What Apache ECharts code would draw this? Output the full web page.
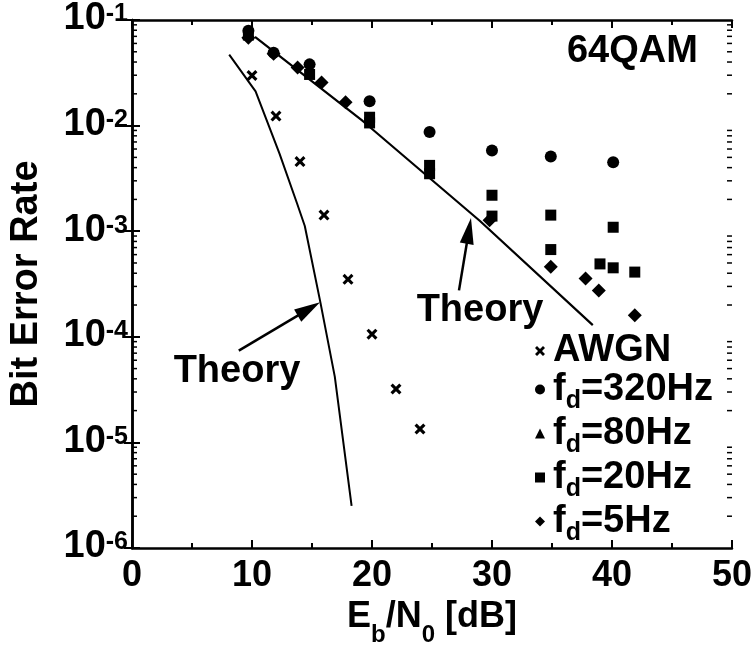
<!DOCTYPE html>
<html><head><meta charset="utf-8">
<script src="https://cdn.jsdelivr.net/npm/echarts/dist/echarts.min.js"></script>
<style>html,body{margin:0;padding:0;background:#fff}#c{width:755px;height:653px}</style>
</head><body><div id="c"></div>
<script>
const FONT = '"Liberation Sans", Arial, Helvetica, sans-serif';

// ---- data ----
const awgnEbN0 = [10, 12, 14, 16, 18, 20, 22, 24];
const awgnBer  = [0.0298, 0.0123, 0.00456, 0.00142, 3.5e-4, 1.06e-4, 3.2e-5, 1.34e-5];

const fd320EbN0 = [9.7, 11.8, 14.8, 19.8, 24.8, 30, 34.9, 40.1];
const fd320Ber  = [0.079, 0.049, 0.038, 0.0170, 0.0087, 0.0058, 0.0051, 0.0045];

const fd80EbN0 = [9.7];
const fd80Ber  = [0.075];

const fd20EbN0 = [9.7, 14.8, 19.8, 19.8, 24.8, 24.8, 30, 30, 34.9, 34.9, 39, 40.1, 40.1, 41.9];
const fd20Ber  = [0.072, 0.0305, 0.0120, 0.0106, 0.0042, 0.0035, 0.00219, 0.00139, 0.00142, 6.7e-4, 4.9e-4, 0.00109, 4.5e-4, 4.1e-4];

const fd5EbN0 = [9.7, 11.8, 13.8, 15.8, 17.8, 29.8, 34.9, 37.8, 38.9, 41.9];
const fd5Ber  = [0.0678, 0.048, 0.0355, 0.0256, 0.0166, 0.00127, 4.6e-4, 3.56e-4, 2.75e-4, 1.6e-4];

const theoryAwgnEbN0 = [8.1, 10.3, 12.3, 13.75, 14.4, 15.7, 16.9, 18.3];
const theoryAwgnBer  = [0.047, 0.0211, 0.0054, 0.00184, 0.00112, 2.12e-4, 4.2e-5, 2.5e-6];

const theoryRayEbN0 = [10.25, 19.25, 29.0, 38.4];
const theoryRayBer  = [0.0693, 0.0110, 0.00125, 1.29e-4];

// annotation arrows and labels (data coordinates)
const arrowFrom = [[8.9, 7.4e-5], [27.25, 2.75e-4]];
const arrowTo   = [[15.67, 2.12e-4], [28.25, 1.33e-3]];
const annotText = ['Theory', 'Theory', '64QAM'];
const annotAt   = [[8.75, 4.7e-5], [29.0, 1.78e-4], [41.7, 0.050]];

const xTickMin = 0, xTickMax = 50, xTickStep = 10;
const yDecadeMin = 1e-6, yDecadeMax = 0.1;
const minorMultipliers = [2, 3, 4, 5, 6, 7, 8, 9];
const legendNames = ['AWGN', 'fd=320Hz', 'fd=80Hz', 'fd=20Hz', 'fd=5Hz'];

const zip = (xs, ys) => xs.map((x, i) => [x, ys[i]]);
const minorVals = [];
for (let d = yDecadeMin; d < yDecadeMax * 0.99; d *= 10) {
  minorMultipliers.forEach(m => minorVals.push([0, d * m]));
}

const crossPath = 'path://M2,0 L5,3 L8,0 L10,2 L7,5 L10,8 L8,10 L5,7 L2,10 L0,8 L3,5 L0,2 Z';

const axisLine = {show: true, lineStyle: {color: '#000', width: 2.5}};
const tickStyle = {color: '#000', width: 2};
const mark = {color: '#000', opacity: 1};

const chart = echarts.init(document.getElementById('c'), null, {renderer: 'canvas'});
const option = {
  animation: false,
  backgroundColor: '#fff',
  grid: {left: 132, right: 23, top: 15, bottom: 105},
  textStyle: {fontFamily: FONT},
  legend: {
    orient: 'vertical', left: 530, top: 327,
    itemWidth: 10, itemHeight: 10, itemGap: -5,
    data: legendNames,
    selectedMode: false,
    formatter: name => name === 'AWGN' ? '{p|AWGN}' : '{p|f}{s|d}{n|' + name.slice(2) + '}',
    textStyle: {
      color: '#000', fontFamily: FONT, fontWeight: 'bold', fontSize: 38,
      rich: {
        p: {fontFamily: FONT, fontWeight: 'bold', fontSize: 38, lineHeight: 30, verticalAlign: 'middle', padding: [0, 0, 0, 3], color: '#000'},
        n: {fontFamily: FONT, fontWeight: 'bold', fontSize: 38, lineHeight: 30, verticalAlign: 'middle', color: '#000'},
        s: {fontFamily: FONT, fontWeight: 'bold', fontSize: 25, lineHeight: 24, verticalAlign: 'middle', padding: [24, 0, 0, 0], color: '#000'}
      }
    }
  },
  xAxis: [{
    type: 'value', min: xTickMin, max: xTickMax, interval: xTickStep, position: 'bottom',
    axisLine: axisLine,
    axisTick: {show: true, inside: true, length: 8, lineStyle: tickStyle},
    minorTick: {show: true, splitNumber: 2, length: 5, lineStyle: tickStyle},
    splitLine: {show: false},
    axisLabel: {color: '#000', fontFamily: FONT, fontWeight: 'bold', fontSize: 36, margin: 10},
    name: '{n|E}{s|b}{n|/N}{s|0}{n| [dB]}',
    nameLocation: 'middle', nameGap: 52,
    nameTextStyle: {
      color: '#000',
      rich: {
        n: {fontFamily: FONT, fontWeight: 'bold', fontSize: 36, lineHeight: 32, padding: [0, 0, 12, 0], verticalAlign: 'bottom', color: '#000'},
        s: {fontFamily: FONT, fontWeight: 'bold', fontSize: 24, lineHeight: 24, verticalAlign: 'bottom', color: '#000'}
      }
    }
  }, {
    type: 'value', min: xTickMin, max: xTickMax, interval: xTickStep, position: 'top',
    axisLine: axisLine,
    axisTick: {show: true, inside: true, length: 8, lineStyle: tickStyle},
    minorTick: {show: true, splitNumber: 2, length: 5, lineStyle: tickStyle},
    splitLine: {show: false}, axisLabel: {show: false}
  }],
  yAxis: [{
    type: 'log', logBase: 10, min: yDecadeMin, max: yDecadeMax, position: 'left',
    axisLine: axisLine,
    axisTick: {show: true, inside: true, length: 8, lineStyle: tickStyle},
    splitLine: {show: false},
    axisLabel: {
      margin: 4,
      formatter: v => '{b|10}{e|' + Math.round(Math.log10(v)) + '}',
      rich: {
        b: {fontFamily: FONT, fontWeight: 'bold', fontSize: 38, lineHeight: 36, verticalAlign: 'bottom', color: '#000'},
        e: {fontFamily: FONT, fontWeight: 'bold', fontSize: 25, lineHeight: 24, verticalAlign: 'top', color: '#000'}
      }
    },
    name: 'Bit Error Rate', nameLocation: 'middle', nameGap: 86,
    nameTextStyle: {color: '#000', fontFamily: FONT, fontWeight: 'bold', fontSize: 38}
  }, {
    type: 'log', logBase: 10, min: yDecadeMin, max: yDecadeMax, position: 'right',
    axisLine: axisLine,
    axisTick: {show: true, inside: true, length: 8, lineStyle: tickStyle},
    splitLine: {show: false}, axisLabel: {show: false}
  }],
  series: [
    {name: 'AWGN', type: 'scatter', data: zip(awgnEbN0, awgnBer), symbol: crossPath, symbolSize: 11,
     itemStyle: mark, z: 5},
    {name: 'fd=320Hz', type: 'scatter', data: zip(fd320EbN0, fd320Ber), symbol: 'circle', symbolSize: 12,
     itemStyle: mark, z: 5},
    {name: 'fd=80Hz', type: 'scatter', data: zip(fd80EbN0, fd80Ber), symbol: 'triangle', symbolSize: 12,
     itemStyle: mark, z: 5},
    {name: 'fd=20Hz', type: 'scatter', data: zip(fd20EbN0, fd20Ber), symbol: 'rect', symbolSize: 11,
     itemStyle: mark, z: 5},
    {name: 'fd=5Hz', type: 'scatter', data: zip(fd5EbN0, fd5Ber), symbol: 'diamond', symbolSize: 14,
     itemStyle: mark, z: 5},
    {name: 'Theory AWGN', type: 'line', data: zip(theoryAwgnEbN0, theoryAwgnBer), symbol: 'none',
     lineStyle: {color: '#000', width: 2}, z: 4},
    {name: 'Theory Rayleigh', type: 'line', data: zip(theoryRayEbN0, theoryRayBer), symbol: 'none',
     lineStyle: {color: '#000', width: 2.2}, z: 4},
    {name: 'minor ticks', type: 'custom', silent: true, data: minorVals, encode: {x: 0, y: 1}, z: 3,
     renderItem: (params, api) => {
       const v = api.value(1);
       const l = api.coord([xTickMin, v]);
       const r = api.coord([xTickMax, v]);
       return {type: 'group', children: [
         {type: 'line', shape: {x1: l[0], y1: l[1], x2: l[0] + 5, y2: l[1]}, style: {stroke: '#000', lineWidth: 1.5}},
         {type: 'line', shape: {x1: r[0] - 5, y1: r[1], x2: r[0], y2: r[1]}, style: {stroke: '#000', lineWidth: 1.5}}
       ]};
     }},
    {name: 'arrows', type: 'custom', silent: true,
     data: arrowFrom.map((f, i) => [f[0], f[1], arrowTo[i][0], arrowTo[i][1]]),
     encode: {x: [0, 2], y: [1, 3]}, z: 6,
     renderItem: (params, api) => {
       const a = api.coord([api.value(0), api.value(1)]);
       const b = api.coord([api.value(2), api.value(3)]);
       const dx = b[0] - a[0], dy = b[1] - a[1], L = Math.hypot(dx, dy);
       const ux = dx / L, uy = dy / L, hl = 26, hw = 7;
       const bx = b[0] - ux * hl, by = b[1] - uy * hl;
       return {type: 'group', children: [
         {type: 'line', shape: {x1: a[0], y1: a[1], x2: bx + ux * 2, y2: by + uy * 2}, style: {stroke: '#000', lineWidth: 2.5}},
         {type: 'polygon', shape: {points: [[b[0], b[1]], [bx - uy * hw, by + ux * hw], [bx + uy * hw, by - ux * hw]]}, style: {fill: '#000'}}
       ]};
     }},
    {name: 'labels', type: 'custom', silent: true, data: annotAt, encode: {x: 0, y: 1}, z: 6,
     renderItem: (params, api) => {
       const p = api.coord([api.value(0), api.value(1)]);
       return {type: 'text', x: p[0], y: p[1], style: {
         text: annotText[params.dataIndex], fill: '#000',
         font: 'bold 38px ' + FONT, align: 'center', verticalAlign: 'middle',
         textAlign: 'center', textVerticalAlign: 'middle'}};
     }}
  ]
};
chart.setOption(option);
</script></body></html>
